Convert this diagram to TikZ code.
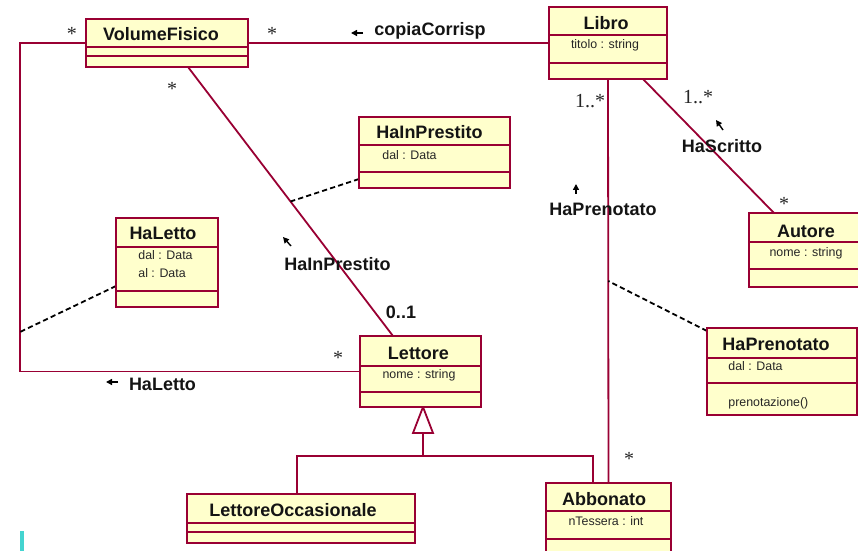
\documentclass[tikz,border=0pt]{standalone}
\usepackage{fontspec}
\setmainfont{Liberation Sans}
\newfontfamily\serifstar{Liberation Serif}
\usetikzlibrary{calc,arrows.meta}
\definecolor{umlred}{HTML}{990033}
\definecolor{umlfill}{HTML}{FFFFCC}
\definecolor{cyanbar}{HTML}{44D4D0}
\tikzset{
  classbox/.style={draw=umlred, fill=umlfill, line width=1.4pt, inner sep=0pt, outer sep=0pt},
  divline/.style={draw=umlred, line width=1.4pt},
  assoc/.style={draw=umlred, line width=0.9pt},
  genhead/.style={draw=umlred, fill=white, line width=0.9pt, line join=miter},
  dashline/.style={draw=black, line width=0.9pt, dash pattern=on 2.6pt off 1.6pt},
  ctitle/.style={font=\bfseries\fontsize{9}{10}\selectfont, text=black!92, inner sep=0pt},
  cattr/.style={font=\fontsize{6.2}{7}\selectfont, text=black!85, inner sep=0pt},
  mult/.style={font=\serifstar\fontsize{10}{11}\selectfont, text=black!85, inner sep=0pt},
  alabel/.style={font=\bfseries\fontsize{9}{10}\selectfont, text=black!92, inner sep=0pt},
  dirarrow/.style={draw=black, line width=0.7pt, -{Triangle[length=3pt,width=3pt]}},
}
\newcommand{\umlcls}[7]{%
  \node[classbox, minimum width={(#4-#2)*0.5pt}, minimum height={(#5-#3)*0.5pt}] (#1) at ({(#2+#4)/2},{(#3+#5)/2}) {};
  \draw[divline] (#2,#6) -- (#4,#6);
  \draw[divline] (#2,#7) -- (#4,#7);
}
\begin{document}
\begin{tikzpicture}[x=0.5pt,y=-0.5pt]
\useasboundingbox (0,0) rectangle (858,551);
\clip (0,0) rectangle (858,551);

% ---------- boxes (first pass, to define names) ----------
\umlcls{vf}{86}{19}{248}{67}{47}{56}
\umlcls{libro}{549}{7}{667}{79}{35}{63}
\umlcls{hip}{359}{117}{510}{188}{145}{172}
\umlcls{haletto}{116}{218}{218}{307}{247}{291}
\umlcls{lettore}{360}{336}{481}{407}{366}{392}
\umlcls{autore}{749}{213}{860}{287}{242}{269}
\umlcls{hp}{707}{328}{857}{415}{358}{383}
\umlcls{lo}{187}{494}{415}{543}{523}{532}
\umlcls{abbonato}{546}{483}{671}{565}{511}{539}

% ---------- connectors ----------
\coordinate (vfcorner) at (20,371.5);
\draw[assoc] (vf.east) -- (libro.west);
\draw[assoc] (vf.west) -| (vfcorner) -- (lettore.west);
\coordinate (vfb) at ($(vf.south west)+(102,0)$);
\coordinate (let) at ($(lettore.north west)+(33,0)$);
\draw[assoc] (vfb) -- (let);
\draw[assoc] (libro.south) -- (abbonato.north);
\draw[assoc] ($(libro.south west)+(94,0)$) -- ($(autore.north west)+(25,0)$);

% generalization
\coordinate (gapex) at ($(lettore.south west)+(63,0)$);
\coordinate (gbase) at ($(gapex)+(0,26)$);
\coordinate (gjoin) at ($(gapex)+(0,49)$);
\draw[assoc] (gbase) -- (gjoin);
\draw[assoc] (gjoin) -| ($(lo.north west)+(110,0)$);
\draw[assoc] (gjoin) -| ($(abbonato.north west)+(47,0)$);
\draw[genhead] (gapex) -- ($(gbase)+(-10,0)$) -- ($(gbase)+(10,0)$) -- cycle;

% association-class dashed links
\coordinate (hlon) at (20,332);
\draw[dashline] ($(haletto.south west)+(0,-21)$) -- (hlon);
\draw[dashline] ($(hip.south west)+(0,-9)$) -- ($(vfb)!0.5!(let)$);
\draw[dashline] ($(hp.north west)+(0,3)$) -- ($(libro.south)!0.5!(abbonato.north)$);

% redraw boxes above connectors
\umlcls{vf}{86}{19}{248}{67}{47}{56}
\umlcls{libro}{549}{7}{667}{79}{35}{63}
\umlcls{hip}{359}{117}{510}{188}{145}{172}
\umlcls{haletto}{116}{218}{218}{307}{247}{291}
\umlcls{lettore}{360}{336}{481}{407}{366}{392}
\umlcls{autore}{749}{213}{860}{287}{242}{269}
\umlcls{hp}{707}{328}{857}{415}{358}{383}
\umlcls{lo}{187}{494}{415}{543}{523}{532}
\umlcls{abbonato}{546}{483}{671}{565}{511}{539}

% ---------- class texts ----------
\node[ctitle] (vft) at (161,34) {VolumeFisico};
\node[ctitle] (librot) at (606,23) {Libro};
\node[cattr] (libroa) at (605,45) {titolo : string};
\node[ctitle] (hipt) at (429.5,132) {HaInPrestito};
\node[cattr, anchor=west] (hipa) at (382,155) {dal : Data};
\node[ctitle] (halettot) at (163,233) {HaLetto};
\node[cattr, anchor=west] (haletto1) at (138,255) {dal : Data};
\node[cattr, anchor=west] (haletto2) at (138,273) {al : Data};
\node[ctitle] (lettoret) at (418.5,353) {Lettore};
\node[cattr] (lettorea) at (419,375) {nome : string};
\node[ctitle] (autoret) at (806,231) {Autore};
\node[cattr] (autorea) at (806,253) {nome : string};
\node[ctitle] (hpt) at (776,344) {HaPrenotato};
\node[cattr, anchor=west] (hpa) at (728,366) {dal : Data};
\node[cattr, anchor=west] (hpo) at (728,403) {prenotazione()};
\node[ctitle] (lot) at (293,510) {LettoreOccasionale};
\node[ctitle] (abbt) at (604,499) {Abbonato};
\node[cattr] (abba) at (606,521) {nTessera : int};

% ---------- multiplicities ----------
\node[mult] (m1) at (72,34) {*};
\node[mult] (m2) at (272,34) {*};
\node[mult] (m3) at (172,89) {*};
\node[mult] (m4) at (590,101) {1..*};
\node[mult] (m5) at (698,97) {1..*};
\node[mult] (m6) at (784,204) {*};
\node[mult] (m7) at (338,358) {*};
\node[mult] (m8) at (629,459) {*};
\node[alabel] (m9) at (401,312) {0..1};

% ---------- association names ----------
\node[alabel] (l1) at (430,31) {copiaCorrisp};
\draw[dirarrow] (363,33) -- (351,33);
\node[alabel] (l2) at (722,146) {HaScritto};
\draw[dirarrow] (723,130) -- (716,120);
\node[alabel] (l3) at (603,209) {HaPrenotato};
\draw[dirarrow] (576,194) -- (576,184);
\node[alabel] (l4) at (337.5,264) {HaInPrestito};
\draw[dirarrow] (291,246) -- (283,237);
\node[alabel] (l5) at (162.5,384) {HaLetto};
\draw[dirarrow] (118,382) -- (106,382);

\fill[cyanbar] (20,531) rectangle (24,551);
\end{tikzpicture}
\end{document}
